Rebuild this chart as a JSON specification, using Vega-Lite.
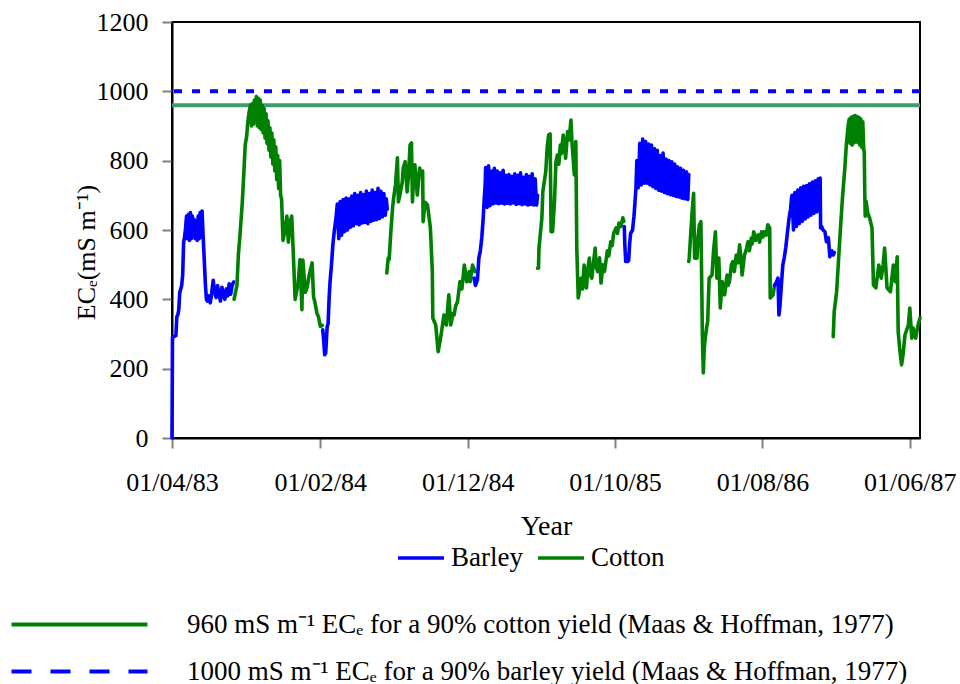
{
  "$schema": "https://vega.github.io/schema/vega-lite/v6.json",
  "width": 748,
  "height": 416,
  "autosize": {"type": "none"},
  "padding": {"left": 172, "top": 22, "right": 40, "bottom": 246},
  "background": "white",
  "config": {
    "font": "Liberation Serif",
    "view": {"stroke": "black", "strokeWidth": 2},
    "axis": {
      "labelFont": "Liberation Serif", "labelFontSize": 26, "labelColor": "black",
      "titleFont": "Liberation Serif", "titleFontSize": 28, "titleFontWeight": "normal", "titleColor": "black",
      "domainColor": "black", "domainWidth": 2, "tickColor": "#808080", "tickWidth": 2, "tickSize": 10, "grid": false
    },
    "legend": {"labelFont": "Liberation Serif", "labelColor": "black", "labelLimit": 0}
  },
  "resolve": {"scale": {"color": "independent", "strokeDash": "independent", "strokeWidth": "independent"}},
  "layer": [
    {
      "data": {"values": [
        {"v": 960, "ref": "cotton90", "w": 4}
      ]},
      "mark": {"type": "rule"},
      "encoding": {
        "y": {"field": "v", "type": "quantitative", "scale": {"domain": [0, 1200], "nice": false}},
        "color": {"field": "ref", "type": "nominal", "scale": {"range": ["#3d9b6c"]}, "legend": null},
        "strokeWidth": {"field": "w", "type": "quantitative", "scale": {"domain": [0, 4], "range": [0, 4]},
          "legend": {
            "values": [4], "labelExpr": "'960 mS m⁻¹ ECₑ for a 90% cotton yield (Maas & Hoffman, 1977)'",
            "orient": "none", "legendX": -106, "legendY": 589, "title": null,
            "symbolType": "M-10,0H10", "symbolSize": 185, "symbolStrokeColor": "#008000",
            "labelFontSize": 27, "labelOffset": 94, "labelLimit": 0
          }
        }
      }
    },
    {
      "data": {"values": [
        {"v": 1000, "ref": "barley90", "w": 4}
      ]},
      "mark": {"type": "rule"},
      "encoding": {
        "y": {"field": "v", "type": "quantitative"},
        "color": {"field": "ref", "type": "nominal", "scale": {"range": ["#0000ff"]}, "legend": null},
        "strokeDash": {"field": "ref", "type": "nominal", "scale": {"range": [[8, 10]]}, "legend": null},
        "strokeWidth": {"field": "w", "type": "quantitative", "scale": {"domain": [0, 4], "range": [0, 4]},
          "legend": {
            "values": [4], "labelExpr": "'1000 mS m⁻¹ ECₑ for a 90% barley yield (Maas & Hoffman, 1977)'",
            "orient": "none", "legendX": -106, "legendY": 636, "title": null,
            "symbolType": "M-10,0H10", "symbolSize": 185, "symbolStrokeColor": "#0000ff", "symbolDash": [20, 19],
            "labelFontSize": 27, "labelOffset": 94, "labelLimit": 0
          }
        }
      }
    },
    {
      "data": {"values": [
        {"d":"1983-04-01","v":0,"c":"Barley","s":"b1"},
        {"d":"1983-04-02","v":290,"c":"Barley","s":"b1"},
        {"d":"1983-04-09","v":295,"c":"Barley","s":"b1"},
        {"d":"1983-04-11","v":350,"c":"Barley","s":"b1"},
        {"d":"1983-04-13","v":355,"c":"Barley","s":"b1"},
        {"d":"1983-04-15","v":370,"c":"Barley","s":"b1"},
        {"d":"1983-04-17","v":420,"c":"Barley","s":"b1"},
        {"d":"1983-04-19","v":430,"c":"Barley","s":"b1"},
        {"d":"1983-04-21","v":440,"c":"Barley","s":"b1"},
        {"d":"1983-04-23","v":470,"c":"Barley","s":"b1"},
        {"d":"1983-04-25","v":565,"c":"Barley","s":"b1"},
        {"d":"1983-04-27","v":580,"c":"Barley","s":"b1"},
        {"d":"1983-04-29","v":605,"c":"Barley","s":"b1"},
        {"d":"1983-05-01","v":640,"c":"Barley","s":"b1"},
        {"d":"1983-05-03","v":575,"c":"Barley","s":"b1"},
        {"d":"1983-05-05","v":645,"c":"Barley","s":"b1"},
        {"d":"1983-05-07","v":570,"c":"Barley","s":"b1"},
        {"d":"1983-05-09","v":650,"c":"Barley","s":"b1"},
        {"d":"1983-05-11","v":575,"c":"Barley","s":"b1"},
        {"d":"1983-05-13","v":640,"c":"Barley","s":"b1"},
        {"d":"1983-05-15","v":580,"c":"Barley","s":"b1"},
        {"d":"1983-05-17","v":630,"c":"Barley","s":"b1"},
        {"d":"1983-05-19","v":575,"c":"Barley","s":"b1"},
        {"d":"1983-05-21","v":625,"c":"Barley","s":"b1"},
        {"d":"1983-05-23","v":570,"c":"Barley","s":"b1"},
        {"d":"1983-05-25","v":640,"c":"Barley","s":"b1"},
        {"d":"1983-05-27","v":575,"c":"Barley","s":"b1"},
        {"d":"1983-05-29","v":650,"c":"Barley","s":"b1"},
        {"d":"1983-05-31","v":580,"c":"Barley","s":"b1"},
        {"d":"1983-06-02","v":655,"c":"Barley","s":"b1"},
        {"d":"1983-06-04","v":590,"c":"Barley","s":"b1"},
        {"d":"1983-06-05","v":560,"c":"Barley","s":"b1"},
        {"d":"1983-06-07","v":500,"c":"Barley","s":"b1"},
        {"d":"1983-06-09","v":440,"c":"Barley","s":"b1"},
        {"d":"1983-06-11","v":400,"c":"Barley","s":"b1"},
        {"d":"1983-06-13","v":395,"c":"Barley","s":"b1"},
        {"d":"1983-06-16","v":410,"c":"Barley","s":"b1"},
        {"d":"1983-06-19","v":390,"c":"Barley","s":"b1"},
        {"d":"1983-06-22","v":420,"c":"Barley","s":"b1"},
        {"d":"1983-06-25","v":455,"c":"Barley","s":"b1"},
        {"d":"1983-06-28","v":420,"c":"Barley","s":"b1"},
        {"d":"1983-07-01","v":405,"c":"Barley","s":"b1"},
        {"d":"1983-07-04","v":440,"c":"Barley","s":"b1"},
        {"d":"1983-07-07","v":410,"c":"Barley","s":"b1"},
        {"d":"1983-07-10","v":395,"c":"Barley","s":"b1"},
        {"d":"1983-07-13","v":435,"c":"Barley","s":"b1"},
        {"d":"1983-07-16","v":415,"c":"Barley","s":"b1"},
        {"d":"1983-07-19","v":400,"c":"Barley","s":"b1"},
        {"d":"1983-07-22","v":430,"c":"Barley","s":"b1"},
        {"d":"1983-07-25","v":410,"c":"Barley","s":"b1"},
        {"d":"1983-07-28","v":445,"c":"Barley","s":"b1"},
        {"d":"1983-07-31","v":415,"c":"Barley","s":"b1"},
        {"d":"1983-08-03","v":440,"c":"Barley","s":"b1"},
        {"d":"1983-08-06","v":450,"c":"Barley","s":"b1"},

        {"d":"1983-08-07","v":400,"c":"Cotton","s":"c1"},
        {"d":"1983-08-10","v":420,"c":"Cotton","s":"c1"},
        {"d":"1983-08-13","v":440,"c":"Cotton","s":"c1"},
        {"d":"1983-08-16","v":530,"c":"Cotton","s":"c1"},
        {"d":"1983-08-19","v":580,"c":"Cotton","s":"c1"},
        {"d":"1983-08-22","v":640,"c":"Cotton","s":"c1"},
        {"d":"1983-08-24","v":680,"c":"Cotton","s":"c1"},
        {"d":"1983-08-27","v":760,"c":"Cotton","s":"c1"},
        {"d":"1983-08-30","v":845,"c":"Cotton","s":"c1"},
        {"d":"1983-09-02","v":870,"c":"Cotton","s":"c1"},
        {"d":"1983-09-04","v":905,"c":"Cotton","s":"c1"},
        {"d":"1983-09-07","v":940,"c":"Cotton","s":"c1"},
        {"d":"1983-09-10","v":960,"c":"Cotton","s":"c1"},
        {"d":"1983-09-12","v":900,"c":"Cotton","s":"c1"},
        {"d":"1983-09-14","v":965,"c":"Cotton","s":"c1"},
        {"d":"1983-09-16","v":905,"c":"Cotton","s":"c1"},
        {"d":"1983-09-18","v":975,"c":"Cotton","s":"c1"},
        {"d":"1983-09-20","v":920,"c":"Cotton","s":"c1"},
        {"d":"1983-09-22","v":985,"c":"Cotton","s":"c1"},
        {"d":"1983-09-24","v":900,"c":"Cotton","s":"c1"},
        {"d":"1983-09-26","v":980,"c":"Cotton","s":"c1"},
        {"d":"1983-09-28","v":895,"c":"Cotton","s":"c1"},
        {"d":"1983-09-30","v":975,"c":"Cotton","s":"c1"},
        {"d":"1983-10-02","v":890,"c":"Cotton","s":"c1"},
        {"d":"1983-10-04","v":960,"c":"Cotton","s":"c1"},
        {"d":"1983-10-06","v":880,"c":"Cotton","s":"c1"},
        {"d":"1983-10-08","v":950,"c":"Cotton","s":"c1"},
        {"d":"1983-10-10","v":865,"c":"Cotton","s":"c1"},
        {"d":"1983-10-12","v":935,"c":"Cotton","s":"c1"},
        {"d":"1983-10-14","v":850,"c":"Cotton","s":"c1"},
        {"d":"1983-10-16","v":915,"c":"Cotton","s":"c1"},
        {"d":"1983-10-18","v":830,"c":"Cotton","s":"c1"},
        {"d":"1983-10-20","v":895,"c":"Cotton","s":"c1"},
        {"d":"1983-10-22","v":810,"c":"Cotton","s":"c1"},
        {"d":"1983-10-24","v":880,"c":"Cotton","s":"c1"},
        {"d":"1983-10-26","v":790,"c":"Cotton","s":"c1"},
        {"d":"1983-10-28","v":860,"c":"Cotton","s":"c1"},
        {"d":"1983-10-30","v":770,"c":"Cotton","s":"c1"},
        {"d":"1983-11-01","v":840,"c":"Cotton","s":"c1"},
        {"d":"1983-11-03","v":745,"c":"Cotton","s":"c1"},
        {"d":"1983-11-05","v":815,"c":"Cotton","s":"c1"},
        {"d":"1983-11-07","v":720,"c":"Cotton","s":"c1"},
        {"d":"1983-11-09","v":800,"c":"Cotton","s":"c1"},
        {"d":"1983-11-11","v":700,"c":"Cotton","s":"c1"},
        {"d":"1983-11-13","v":690,"c":"Cotton","s":"c1"},
        {"d":"1983-11-16","v":570,"c":"Cotton","s":"c1"},
        {"d":"1983-11-20","v":600,"c":"Cotton","s":"c1"},
        {"d":"1983-11-24","v":640,"c":"Cotton","s":"c1"},
        {"d":"1983-11-27","v":565,"c":"Cotton","s":"c1"},
        {"d":"1983-12-01","v":625,"c":"Cotton","s":"c1"},
        {"d":"1983-12-04","v":640,"c":"Cotton","s":"c1"},
        {"d":"1983-12-07","v":540,"c":"Cotton","s":"c1"},
        {"d":"1983-12-11","v":400,"c":"Cotton","s":"c1"},
        {"d":"1983-12-15","v":430,"c":"Cotton","s":"c1"},
        {"d":"1983-12-17","v":440,"c":"Cotton","s":"c1"},
        {"d":"1983-12-21","v":515,"c":"Cotton","s":"c1"},
        {"d":"1983-12-25","v":370,"c":"Cotton","s":"c1"},
        {"d":"1983-12-27","v":513,"c":"Cotton","s":"c1"},
        {"d":"1984-01-01","v":420,"c":"Cotton","s":"c1"},
        {"d":"1984-01-05","v":436,"c":"Cotton","s":"c1"},
        {"d":"1984-01-09","v":470,"c":"Cotton","s":"c1"},
        {"d":"1984-01-15","v":505,"c":"Cotton","s":"c1"},
        {"d":"1984-01-18","v":407,"c":"Cotton","s":"c1"},
        {"d":"1984-01-21","v":390,"c":"Cotton","s":"c1"},
        {"d":"1984-01-25","v":360,"c":"Cotton","s":"c1"},
        {"d":"1984-01-28","v":350,"c":"Cotton","s":"c1"},
        {"d":"1984-02-01","v":322,"c":"Cotton","s":"c1"},
        {"d":"1984-02-05","v":325,"c":"Cotton","s":"c1"},

        {"d":"1984-02-06","v":312,"c":"Barley","s":"b2"},
        {"d":"1984-02-08","v":280,"c":"Barley","s":"b2"},
        {"d":"1984-02-10","v":240,"c":"Barley","s":"b2"},
        {"d":"1984-02-12","v":245,"c":"Barley","s":"b2"},
        {"d":"1984-02-15","v":320,"c":"Barley","s":"b2"},
        {"d":"1984-02-17","v":330,"c":"Barley","s":"b2"},
        {"d":"1984-02-19","v":400,"c":"Barley","s":"b2"},
        {"d":"1984-02-21","v":450,"c":"Barley","s":"b2"},
        {"d":"1984-02-24","v":500,"c":"Barley","s":"b2"},
        {"d":"1984-02-27","v":560,"c":"Barley","s":"b2"},
        {"d":"1984-03-01","v":600,"c":"Barley","s":"b2"},
        {"d":"1984-03-04","v":630,"c":"Barley","s":"b2"},
        {"d":"1984-03-06","v":660,"c":"Barley","s":"b2"},
        {"d":"1984-03-07","v":675,"c":"Barley","s":"b2"},
        {"d":"1984-03-10","v":575,"c":"Barley","s":"b2"},
        {"d":"1984-03-13","v":682,"c":"Barley","s":"b2"},
        {"d":"1984-03-16","v":585,"c":"Barley","s":"b2"},
        {"d":"1984-03-19","v":688,"c":"Barley","s":"b2"},
        {"d":"1984-03-22","v":595,"c":"Barley","s":"b2"},
        {"d":"1984-03-25","v":692,"c":"Barley","s":"b2"},
        {"d":"1984-03-28","v":600,"c":"Barley","s":"b2"},
        {"d":"1984-03-31","v":690,"c":"Barley","s":"b2"},
        {"d":"1984-04-03","v":608,"c":"Barley","s":"b2"},
        {"d":"1984-04-06","v":698,"c":"Barley","s":"b2"},
        {"d":"1984-04-09","v":612,"c":"Barley","s":"b2"},
        {"d":"1984-04-12","v":705,"c":"Barley","s":"b2"},
        {"d":"1984-04-15","v":618,"c":"Barley","s":"b2"},
        {"d":"1984-04-18","v":700,"c":"Barley","s":"b2"},
        {"d":"1984-04-21","v":615,"c":"Barley","s":"b2"},
        {"d":"1984-04-24","v":708,"c":"Barley","s":"b2"},
        {"d":"1984-04-27","v":620,"c":"Barley","s":"b2"},
        {"d":"1984-04-30","v":702,"c":"Barley","s":"b2"},
        {"d":"1984-05-03","v":622,"c":"Barley","s":"b2"},
        {"d":"1984-05-06","v":712,"c":"Barley","s":"b2"},
        {"d":"1984-05-09","v":618,"c":"Barley","s":"b2"},
        {"d":"1984-05-12","v":705,"c":"Barley","s":"b2"},
        {"d":"1984-05-15","v":625,"c":"Barley","s":"b2"},
        {"d":"1984-05-18","v":715,"c":"Barley","s":"b2"},
        {"d":"1984-05-21","v":628,"c":"Barley","s":"b2"},
        {"d":"1984-05-24","v":708,"c":"Barley","s":"b2"},
        {"d":"1984-05-27","v":630,"c":"Barley","s":"b2"},
        {"d":"1984-05-30","v":720,"c":"Barley","s":"b2"},
        {"d":"1984-06-02","v":633,"c":"Barley","s":"b2"},
        {"d":"1984-06-05","v":712,"c":"Barley","s":"b2"},
        {"d":"1984-06-08","v":638,"c":"Barley","s":"b2"},
        {"d":"1984-06-11","v":705,"c":"Barley","s":"b2"},
        {"d":"1984-06-14","v":643,"c":"Barley","s":"b2"},
        {"d":"1984-06-16","v":690,"c":"Barley","s":"b2"},
        {"d":"1984-06-18","v":660,"c":"Barley","s":"b2"},

        {"d":"1984-06-17","v":476,"c":"Cotton","s":"c2"},
        {"d":"1984-06-20","v":519,"c":"Cotton","s":"c2"},
        {"d":"1984-06-22","v":515,"c":"Cotton","s":"c2"},
        {"d":"1984-06-25","v":586,"c":"Cotton","s":"c2"},
        {"d":"1984-06-29","v":664,"c":"Cotton","s":"c2"},
        {"d":"1984-07-01","v":690,"c":"Cotton","s":"c2"},
        {"d":"1984-07-05","v":730,"c":"Cotton","s":"c2"},
        {"d":"1984-07-09","v":808,"c":"Cotton","s":"c2"},
        {"d":"1984-07-11","v":681,"c":"Cotton","s":"c2"},
        {"d":"1984-07-14","v":700,"c":"Cotton","s":"c2"},
        {"d":"1984-07-19","v":738,"c":"Cotton","s":"c2"},
        {"d":"1984-07-21","v":779,"c":"Cotton","s":"c2"},
        {"d":"1984-07-25","v":797,"c":"Cotton","s":"c2"},
        {"d":"1984-07-29","v":710,"c":"Cotton","s":"c2"},
        {"d":"1984-08-01","v":760,"c":"Cotton","s":"c2"},
        {"d":"1984-08-04","v":845,"c":"Cotton","s":"c2"},
        {"d":"1984-08-07","v":851,"c":"Cotton","s":"c2"},
        {"d":"1984-08-09","v":681,"c":"Cotton","s":"c2"},
        {"d":"1984-08-11","v":740,"c":"Cotton","s":"c2"},
        {"d":"1984-08-14","v":788,"c":"Cotton","s":"c2"},
        {"d":"1984-08-19","v":701,"c":"Cotton","s":"c2"},
        {"d":"1984-08-24","v":779,"c":"Cotton","s":"c2"},
        {"d":"1984-08-26","v":760,"c":"Cotton","s":"c2"},
        {"d":"1984-08-30","v":770,"c":"Cotton","s":"c2"},
        {"d":"1984-08-31","v":624,"c":"Cotton","s":"c2"},
        {"d":"1984-09-04","v":680,"c":"Cotton","s":"c2"},
        {"d":"1984-09-09","v":672,"c":"Cotton","s":"c2"},
        {"d":"1984-09-12","v":640,"c":"Cotton","s":"c2"},
        {"d":"1984-09-15","v":606,"c":"Cotton","s":"c2"},
        {"d":"1984-09-19","v":480,"c":"Cotton","s":"c2"},
        {"d":"1984-09-20","v":346,"c":"Cotton","s":"c2"},
        {"d":"1984-09-26","v":326,"c":"Cotton","s":"c2"},
        {"d":"1984-10-01","v":249,"c":"Cotton","s":"c2"},
        {"d":"1984-10-06","v":288,"c":"Cotton","s":"c2"},
        {"d":"1984-10-13","v":355,"c":"Cotton","s":"c2"},
        {"d":"1984-10-18","v":326,"c":"Cotton","s":"c2"},
        {"d":"1984-10-23","v":413,"c":"Cotton","s":"c2"},
        {"d":"1984-10-27","v":326,"c":"Cotton","s":"c2"},
        {"d":"1984-11-01","v":360,"c":"Cotton","s":"c2"},
        {"d":"1984-11-03","v":355,"c":"Cotton","s":"c2"},
        {"d":"1984-11-06","v":380,"c":"Cotton","s":"c2"},
        {"d":"1984-11-10","v":393,"c":"Cotton","s":"c2"},
        {"d":"1984-11-15","v":451,"c":"Cotton","s":"c2"},
        {"d":"1984-11-19","v":430,"c":"Cotton","s":"c2"},
        {"d":"1984-11-24","v":499,"c":"Cotton","s":"c2"},
        {"d":"1984-11-29","v":451,"c":"Cotton","s":"c2"},
        {"d":"1984-12-01","v":470,"c":"Cotton","s":"c2"},
        {"d":"1984-12-04","v":480,"c":"Cotton","s":"c2"},
        {"d":"1984-12-06","v":451,"c":"Cotton","s":"c2"},
        {"d":"1984-12-11","v":499,"c":"Cotton","s":"c2"},
        {"d":"1984-12-16","v":480,"c":"Cotton","s":"c2"},

        {"d":"1984-12-14","v":461,"c":"Barley","s":"b3"},
        {"d":"1984-12-17","v":440,"c":"Barley","s":"b3"},
        {"d":"1984-12-21","v":456,"c":"Barley","s":"b3"},
        {"d":"1984-12-24","v":519,"c":"Barley","s":"b3"},
        {"d":"1984-12-27","v":540,"c":"Barley","s":"b3"},
        {"d":"1984-12-30","v":577,"c":"Barley","s":"b3"},
        {"d":"1985-01-02","v":635,"c":"Barley","s":"b3"},
        {"d":"1985-01-04","v":687,"c":"Barley","s":"b3"},
        {"d":"1985-01-06","v":730,"c":"Barley","s":"b3"},
        {"d":"1985-01-07","v":780,"c":"Barley","s":"b3"},
        {"d":"1985-01-10","v":665,"c":"Barley","s":"b3"},
        {"d":"1985-01-13","v":785,"c":"Barley","s":"b3"},
        {"d":"1985-01-16","v":670,"c":"Barley","s":"b3"},
        {"d":"1985-01-19","v":770,"c":"Barley","s":"b3"},
        {"d":"1985-01-22","v":675,"c":"Barley","s":"b3"},
        {"d":"1985-01-25","v":778,"c":"Barley","s":"b3"},
        {"d":"1985-01-28","v":678,"c":"Barley","s":"b3"},
        {"d":"1985-01-31","v":770,"c":"Barley","s":"b3"},
        {"d":"1985-02-03","v":676,"c":"Barley","s":"b3"},
        {"d":"1985-02-06","v":765,"c":"Barley","s":"b3"},
        {"d":"1985-02-09","v":678,"c":"Barley","s":"b3"},
        {"d":"1985-02-12","v":772,"c":"Barley","s":"b3"},
        {"d":"1985-02-15","v":675,"c":"Barley","s":"b3"},
        {"d":"1985-02-18","v":758,"c":"Barley","s":"b3"},
        {"d":"1985-02-21","v":677,"c":"Barley","s":"b3"},
        {"d":"1985-02-24","v":760,"c":"Barley","s":"b3"},
        {"d":"1985-02-27","v":675,"c":"Barley","s":"b3"},
        {"d":"1985-03-02","v":755,"c":"Barley","s":"b3"},
        {"d":"1985-03-05","v":678,"c":"Barley","s":"b3"},
        {"d":"1985-03-08","v":762,"c":"Barley","s":"b3"},
        {"d":"1985-03-11","v":674,"c":"Barley","s":"b3"},
        {"d":"1985-03-14","v":758,"c":"Barley","s":"b3"},
        {"d":"1985-03-17","v":676,"c":"Barley","s":"b3"},
        {"d":"1985-03-20","v":765,"c":"Barley","s":"b3"},
        {"d":"1985-03-23","v":673,"c":"Barley","s":"b3"},
        {"d":"1985-03-26","v":752,"c":"Barley","s":"b3"},
        {"d":"1985-03-29","v":675,"c":"Barley","s":"b3"},
        {"d":"1985-04-01","v":760,"c":"Barley","s":"b3"},
        {"d":"1985-04-04","v":672,"c":"Barley","s":"b3"},
        {"d":"1985-04-07","v":755,"c":"Barley","s":"b3"},
        {"d":"1985-04-10","v":674,"c":"Barley","s":"b3"},
        {"d":"1985-04-13","v":762,"c":"Barley","s":"b3"},
        {"d":"1985-04-16","v":672,"c":"Barley","s":"b3"},
        {"d":"1985-04-19","v":748,"c":"Barley","s":"b3"},
        {"d":"1985-04-22","v":672,"c":"Barley","s":"b3"},
        {"d":"1985-04-24","v":700,"c":"Barley","s":"b3"},

        {"d":"1985-04-24","v":490,"c":"Cotton","s":"c3"},
        {"d":"1985-04-26","v":490,"c":"Cotton","s":"c3"},
        {"d":"1985-04-27","v":548,"c":"Cotton","s":"c3"},
        {"d":"1985-05-03","v":635,"c":"Cotton","s":"c3"},
        {"d":"1985-05-05","v":711,"c":"Cotton","s":"c3"},
        {"d":"1985-05-08","v":740,"c":"Cotton","s":"c3"},
        {"d":"1985-05-11","v":768,"c":"Cotton","s":"c3"},
        {"d":"1985-05-14","v":840,"c":"Cotton","s":"c3"},
        {"d":"1985-05-17","v":874,"c":"Cotton","s":"c3"},
        {"d":"1985-05-20","v":877,"c":"Cotton","s":"c3"},
        {"d":"1985-05-22","v":595,"c":"Cotton","s":"c3"},
        {"d":"1985-05-25","v":595,"c":"Cotton","s":"c3"},
        {"d":"1985-05-29","v":682,"c":"Cotton","s":"c3"},
        {"d":"1985-06-01","v":797,"c":"Cotton","s":"c3"},
        {"d":"1985-06-04","v":816,"c":"Cotton","s":"c3"},
        {"d":"1985-06-07","v":790,"c":"Cotton","s":"c3"},
        {"d":"1985-06-10","v":845,"c":"Cotton","s":"c3"},
        {"d":"1985-06-12","v":820,"c":"Cotton","s":"c3"},
        {"d":"1985-06-16","v":874,"c":"Cotton","s":"c3"},
        {"d":"1985-06-21","v":807,"c":"Cotton","s":"c3"},
        {"d":"1985-06-25","v":884,"c":"Cotton","s":"c3"},
        {"d":"1985-06-28","v":860,"c":"Cotton","s":"c3"},
        {"d":"1985-07-02","v":917,"c":"Cotton","s":"c3"},
        {"d":"1985-07-04","v":855,"c":"Cotton","s":"c3"},
        {"d":"1985-07-09","v":759,"c":"Cotton","s":"c3"},
        {"d":"1985-07-12","v":855,"c":"Cotton","s":"c3"},
        {"d":"1985-07-14","v":548,"c":"Cotton","s":"c3"},
        {"d":"1985-07-17","v":404,"c":"Cotton","s":"c3"},
        {"d":"1985-07-19","v":420,"c":"Cotton","s":"c3"},
        {"d":"1985-07-23","v":461,"c":"Cotton","s":"c3"},
        {"d":"1985-07-26","v":430,"c":"Cotton","s":"c3"},
        {"d":"1985-07-29","v":499,"c":"Cotton","s":"c3"},
        {"d":"1985-08-01","v":450,"c":"Cotton","s":"c3"},
        {"d":"1985-08-03","v":433,"c":"Cotton","s":"c3"},
        {"d":"1985-08-06","v":490,"c":"Cotton","s":"c3"},
        {"d":"1985-08-09","v":519,"c":"Cotton","s":"c3"},
        {"d":"1985-08-11","v":470,"c":"Cotton","s":"c3"},
        {"d":"1985-08-14","v":461,"c":"Cotton","s":"c3"},
        {"d":"1985-08-17","v":500,"c":"Cotton","s":"c3"},
        {"d":"1985-08-21","v":548,"c":"Cotton","s":"c3"},
        {"d":"1985-08-23","v":495,"c":"Cotton","s":"c3"},
        {"d":"1985-08-26","v":480,"c":"Cotton","s":"c3"},
        {"d":"1985-08-30","v":520,"c":"Cotton","s":"c3"},
        {"d":"1985-09-02","v":447,"c":"Cotton","s":"c3"},
        {"d":"1985-09-06","v":500,"c":"Cotton","s":"c3"},
        {"d":"1985-09-09","v":480,"c":"Cotton","s":"c3"},
        {"d":"1985-09-12","v":509,"c":"Cotton","s":"c3"},
        {"d":"1985-09-15","v":540,"c":"Cotton","s":"c3"},
        {"d":"1985-09-18","v":525,"c":"Cotton","s":"c3"},
        {"d":"1985-09-22","v":566,"c":"Cotton","s":"c3"},
        {"d":"1985-09-25","v":555,"c":"Cotton","s":"c3"},
        {"d":"1985-09-28","v":590,"c":"Cotton","s":"c3"},
        {"d":"1985-10-03","v":606,"c":"Cotton","s":"c3"},
        {"d":"1985-10-06","v":590,"c":"Cotton","s":"c3"},
        {"d":"1985-10-09","v":620,"c":"Cotton","s":"c3"},
        {"d":"1985-10-13","v":610,"c":"Cotton","s":"c3"},
        {"d":"1985-10-17","v":635,"c":"Cotton","s":"c3"},
        {"d":"1985-10-19","v":625,"c":"Cotton","s":"c3"},

        {"d":"1985-10-20","v":610,"c":"Barley","s":"b4"},
        {"d":"1985-10-21","v":560,"c":"Barley","s":"b4"},
        {"d":"1985-10-23","v":509,"c":"Barley","s":"b4"},
        {"d":"1985-10-27","v":509,"c":"Barley","s":"b4"},
        {"d":"1985-10-29","v":512,"c":"Barley","s":"b4"},
        {"d":"1985-10-31","v":560,"c":"Barley","s":"b4"},
        {"d":"1985-11-02","v":590,"c":"Barley","s":"b4"},
        {"d":"1985-11-06","v":600,"c":"Barley","s":"b4"},
        {"d":"1985-11-09","v":640,"c":"Barley","s":"b4"},
        {"d":"1985-11-11","v":680,"c":"Barley","s":"b4"},
        {"d":"1985-11-13","v":720,"c":"Barley","s":"b4"},
        {"d":"1985-11-15","v":800,"c":"Barley","s":"b4"},
        {"d":"1985-11-18","v":722,"c":"Barley","s":"b4"},
        {"d":"1985-11-21","v":850,"c":"Barley","s":"b4"},
        {"d":"1985-11-24","v":730,"c":"Barley","s":"b4"},
        {"d":"1985-11-27","v":862,"c":"Barley","s":"b4"},
        {"d":"1985-11-30","v":735,"c":"Barley","s":"b4"},
        {"d":"1985-12-03","v":855,"c":"Barley","s":"b4"},
        {"d":"1985-12-06","v":735,"c":"Barley","s":"b4"},
        {"d":"1985-12-09","v":848,"c":"Barley","s":"b4"},
        {"d":"1985-12-12","v":730,"c":"Barley","s":"b4"},
        {"d":"1985-12-15","v":845,"c":"Barley","s":"b4"},
        {"d":"1985-12-18","v":725,"c":"Barley","s":"b4"},
        {"d":"1985-12-21","v":835,"c":"Barley","s":"b4"},
        {"d":"1985-12-24","v":720,"c":"Barley","s":"b4"},
        {"d":"1985-12-27","v":830,"c":"Barley","s":"b4"},
        {"d":"1985-12-30","v":715,"c":"Barley","s":"b4"},
        {"d":"1986-01-02","v":815,"c":"Barley","s":"b4"},
        {"d":"1986-01-05","v":712,"c":"Barley","s":"b4"},
        {"d":"1986-01-08","v":822,"c":"Barley","s":"b4"},
        {"d":"1986-01-11","v":708,"c":"Barley","s":"b4"},
        {"d":"1986-01-14","v":805,"c":"Barley","s":"b4"},
        {"d":"1986-01-17","v":705,"c":"Barley","s":"b4"},
        {"d":"1986-01-20","v":800,"c":"Barley","s":"b4"},
        {"d":"1986-01-23","v":702,"c":"Barley","s":"b4"},
        {"d":"1986-01-26","v":797,"c":"Barley","s":"b4"},
        {"d":"1986-01-29","v":700,"c":"Barley","s":"b4"},
        {"d":"1986-02-01","v":790,"c":"Barley","s":"b4"},
        {"d":"1986-02-04","v":697,"c":"Barley","s":"b4"},
        {"d":"1986-02-07","v":782,"c":"Barley","s":"b4"},
        {"d":"1986-02-10","v":695,"c":"Barley","s":"b4"},
        {"d":"1986-02-13","v":778,"c":"Barley","s":"b4"},
        {"d":"1986-02-16","v":692,"c":"Barley","s":"b4"},
        {"d":"1986-02-19","v":772,"c":"Barley","s":"b4"},
        {"d":"1986-02-22","v":690,"c":"Barley","s":"b4"},
        {"d":"1986-02-25","v":768,"c":"Barley","s":"b4"},
        {"d":"1986-02-28","v":688,"c":"Barley","s":"b4"},
        {"d":"1986-03-02","v":760,"c":"Barley","s":"b4"},

        {"d":"1986-03-02","v":509,"c":"Cotton","s":"c4"},
        {"d":"1986-03-03","v":520,"c":"Cotton","s":"c4"},
        {"d":"1986-03-05","v":566,"c":"Cotton","s":"c4"},
        {"d":"1986-03-09","v":653,"c":"Cotton","s":"c4"},
        {"d":"1986-03-12","v":706,"c":"Cotton","s":"c4"},
        {"d":"1986-03-14","v":519,"c":"Cotton","s":"c4"},
        {"d":"1986-03-19","v":519,"c":"Cotton","s":"c4"},
        {"d":"1986-03-21","v":580,"c":"Cotton","s":"c4"},
        {"d":"1986-03-24","v":615,"c":"Cotton","s":"c4"},
        {"d":"1986-03-27","v":624,"c":"Cotton","s":"c4"},
        {"d":"1986-03-29","v":420,"c":"Cotton","s":"c4"},
        {"d":"1986-03-30","v":297,"c":"Cotton","s":"c4"},
        {"d":"1986-04-01","v":188,"c":"Cotton","s":"c4"},
        {"d":"1986-04-03","v":260,"c":"Cotton","s":"c4"},
        {"d":"1986-04-05","v":288,"c":"Cotton","s":"c4"},
        {"d":"1986-04-08","v":320,"c":"Cotton","s":"c4"},
        {"d":"1986-04-10","v":336,"c":"Cotton","s":"c4"},
        {"d":"1986-04-12","v":420,"c":"Cotton","s":"c4"},
        {"d":"1986-04-13","v":461,"c":"Cotton","s":"c4"},
        {"d":"1986-04-19","v":470,"c":"Cotton","s":"c4"},
        {"d":"1986-04-22","v":538,"c":"Cotton","s":"c4"},
        {"d":"1986-04-26","v":595,"c":"Cotton","s":"c4"},
        {"d":"1986-04-29","v":461,"c":"Cotton","s":"c4"},
        {"d":"1986-05-03","v":519,"c":"Cotton","s":"c4"},
        {"d":"1986-05-06","v":375,"c":"Cotton","s":"c4"},
        {"d":"1986-05-10","v":451,"c":"Cotton","s":"c4"},
        {"d":"1986-05-15","v":413,"c":"Cotton","s":"c4"},
        {"d":"1986-05-20","v":470,"c":"Cotton","s":"c4"},
        {"d":"1986-05-22","v":440,"c":"Cotton","s":"c4"},
        {"d":"1986-05-25","v":451,"c":"Cotton","s":"c4"},
        {"d":"1986-05-29","v":500,"c":"Cotton","s":"c4"},
        {"d":"1986-06-01","v":509,"c":"Cotton","s":"c4"},
        {"d":"1986-06-04","v":480,"c":"Cotton","s":"c4"},
        {"d":"1986-06-08","v":528,"c":"Cotton","s":"c4"},
        {"d":"1986-06-11","v":505,"c":"Cotton","s":"c4"},
        {"d":"1986-06-15","v":557,"c":"Cotton","s":"c4"},
        {"d":"1986-06-17","v":530,"c":"Cotton","s":"c4"},
        {"d":"1986-06-20","v":470,"c":"Cotton","s":"c4"},
        {"d":"1986-06-25","v":528,"c":"Cotton","s":"c4"},
        {"d":"1986-06-29","v":545,"c":"Cotton","s":"c4"},
        {"d":"1986-07-02","v":566,"c":"Cotton","s":"c4"},
        {"d":"1986-07-05","v":540,"c":"Cotton","s":"c4"},
        {"d":"1986-07-09","v":577,"c":"Cotton","s":"c4"},
        {"d":"1986-07-11","v":560,"c":"Cotton","s":"c4"},
        {"d":"1986-07-14","v":595,"c":"Cotton","s":"c4"},
        {"d":"1986-07-18","v":570,"c":"Cotton","s":"c4"},
        {"d":"1986-07-23","v":586,"c":"Cotton","s":"c4"},
        {"d":"1986-07-26","v":565,"c":"Cotton","s":"c4"},
        {"d":"1986-07-30","v":595,"c":"Cotton","s":"c4"},
        {"d":"1986-08-02","v":580,"c":"Cotton","s":"c4"},
        {"d":"1986-08-05","v":595,"c":"Cotton","s":"c4"},
        {"d":"1986-08-09","v":585,"c":"Cotton","s":"c4"},
        {"d":"1986-08-12","v":615,"c":"Cotton","s":"c4"},
        {"d":"1986-08-16","v":606,"c":"Cotton","s":"c4"},
        {"d":"1986-08-17","v":404,"c":"Cotton","s":"c4"},
        {"d":"1986-08-23","v":413,"c":"Cotton","s":"c4"},
        {"d":"1986-08-26","v":441,"c":"Cotton","s":"c4"},

        {"d":"1986-08-26","v":441,"c":"Barley","s":"b5"},
        {"d":"1986-08-30","v":450,"c":"Barley","s":"b5"},
        {"d":"1986-09-02","v":461,"c":"Barley","s":"b5"},
        {"d":"1986-09-04","v":355,"c":"Barley","s":"b5"},
        {"d":"1986-09-06","v":380,"c":"Barley","s":"b5"},
        {"d":"1986-09-09","v":441,"c":"Barley","s":"b5"},
        {"d":"1986-09-12","v":499,"c":"Barley","s":"b5"},
        {"d":"1986-09-15","v":520,"c":"Barley","s":"b5"},
        {"d":"1986-09-18","v":548,"c":"Barley","s":"b5"},
        {"d":"1986-09-21","v":586,"c":"Barley","s":"b5"},
        {"d":"1986-09-25","v":635,"c":"Barley","s":"b5"},
        {"d":"1986-09-28","v":660,"c":"Barley","s":"b5"},
        {"d":"1986-09-30","v":692,"c":"Barley","s":"b5"},
        {"d":"1986-10-01","v":700,"c":"Barley","s":"b5"},
        {"d":"1986-10-04","v":600,"c":"Barley","s":"b5"},
        {"d":"1986-10-07","v":708,"c":"Barley","s":"b5"},
        {"d":"1986-10-10","v":610,"c":"Barley","s":"b5"},
        {"d":"1986-10-13","v":715,"c":"Barley","s":"b5"},
        {"d":"1986-10-16","v":618,"c":"Barley","s":"b5"},
        {"d":"1986-10-19","v":722,"c":"Barley","s":"b5"},
        {"d":"1986-10-22","v":625,"c":"Barley","s":"b5"},
        {"d":"1986-10-25","v":726,"c":"Barley","s":"b5"},
        {"d":"1986-10-28","v":632,"c":"Barley","s":"b5"},
        {"d":"1986-10-31","v":728,"c":"Barley","s":"b5"},
        {"d":"1986-11-03","v":638,"c":"Barley","s":"b5"},
        {"d":"1986-11-06","v":733,"c":"Barley","s":"b5"},
        {"d":"1986-11-09","v":643,"c":"Barley","s":"b5"},
        {"d":"1986-11-12","v":738,"c":"Barley","s":"b5"},
        {"d":"1986-11-15","v":648,"c":"Barley","s":"b5"},
        {"d":"1986-11-18","v":742,"c":"Barley","s":"b5"},
        {"d":"1986-11-21","v":652,"c":"Barley","s":"b5"},
        {"d":"1986-11-24","v":748,"c":"Barley","s":"b5"},
        {"d":"1986-11-27","v":658,"c":"Barley","s":"b5"},
        {"d":"1986-11-28","v":750,"c":"Barley","s":"b5"},
        {"d":"1986-11-29","v":606,"c":"Barley","s":"b5"},
        {"d":"1986-12-01","v":610,"c":"Barley","s":"b5"},
        {"d":"1986-12-04","v":600,"c":"Barley","s":"b5"},
        {"d":"1986-12-08","v":595,"c":"Barley","s":"b5"},
        {"d":"1986-12-11","v":566,"c":"Barley","s":"b5"},
        {"d":"1986-12-15","v":577,"c":"Barley","s":"b5"},
        {"d":"1986-12-18","v":523,"c":"Barley","s":"b5"},
        {"d":"1986-12-22","v":540,"c":"Barley","s":"b5"},
        {"d":"1986-12-25","v":528,"c":"Barley","s":"b5"},
        {"d":"1986-12-27","v":535,"c":"Barley","s":"b5"},

        {"d":"1986-12-25","v":292,"c":"Cotton","s":"c5"},
        {"d":"1986-12-27","v":364,"c":"Cotton","s":"c5"},
        {"d":"1987-01-01","v":422,"c":"Cotton","s":"c5"},
        {"d":"1987-01-06","v":538,"c":"Cotton","s":"c5"},
        {"d":"1987-01-09","v":606,"c":"Cotton","s":"c5"},
        {"d":"1987-01-13","v":692,"c":"Cotton","s":"c5"},
        {"d":"1987-01-18","v":779,"c":"Cotton","s":"c5"},
        {"d":"1987-01-21","v":845,"c":"Cotton","s":"c5"},
        {"d":"1987-01-25","v":903,"c":"Cotton","s":"c5"},
        {"d":"1987-01-27","v":920,"c":"Cotton","s":"c5"},
        {"d":"1987-01-29","v":850,"c":"Cotton","s":"c5"},
        {"d":"1987-01-31","v":925,"c":"Cotton","s":"c5"},
        {"d":"1987-02-02","v":845,"c":"Cotton","s":"c5"},
        {"d":"1987-02-04","v":928,"c":"Cotton","s":"c5"},
        {"d":"1987-02-06","v":852,"c":"Cotton","s":"c5"},
        {"d":"1987-02-08","v":930,"c":"Cotton","s":"c5"},
        {"d":"1987-02-10","v":855,"c":"Cotton","s":"c5"},
        {"d":"1987-02-12","v":927,"c":"Cotton","s":"c5"},
        {"d":"1987-02-14","v":852,"c":"Cotton","s":"c5"},
        {"d":"1987-02-16","v":925,"c":"Cotton","s":"c5"},
        {"d":"1987-02-18","v":845,"c":"Cotton","s":"c5"},
        {"d":"1987-02-20","v":920,"c":"Cotton","s":"c5"},
        {"d":"1987-02-22","v":838,"c":"Cotton","s":"c5"},
        {"d":"1987-02-24","v":912,"c":"Cotton","s":"c5"},
        {"d":"1987-02-26","v":830,"c":"Cotton","s":"c5"},
        {"d":"1987-02-27","v":826,"c":"Cotton","s":"c5"},
        {"d":"1987-02-28","v":711,"c":"Cotton","s":"c5"},
        {"d":"1987-03-01","v":640,"c":"Cotton","s":"c5"},
        {"d":"1987-03-03","v":682,"c":"Cotton","s":"c5"},
        {"d":"1987-03-06","v":650,"c":"Cotton","s":"c5"},
        {"d":"1987-03-10","v":635,"c":"Cotton","s":"c5"},
        {"d":"1987-03-15","v":606,"c":"Cotton","s":"c5"},
        {"d":"1987-03-18","v":441,"c":"Cotton","s":"c5"},
        {"d":"1987-03-23","v":433,"c":"Cotton","s":"c5"},
        {"d":"1987-03-29","v":499,"c":"Cotton","s":"c5"},
        {"d":"1987-04-03","v":461,"c":"Cotton","s":"c5"},
        {"d":"1987-04-07","v":500,"c":"Cotton","s":"c5"},
        {"d":"1987-04-10","v":548,"c":"Cotton","s":"c5"},
        {"d":"1987-04-15","v":433,"c":"Cotton","s":"c5"},
        {"d":"1987-04-22","v":422,"c":"Cotton","s":"c5"},
        {"d":"1987-04-28","v":499,"c":"Cotton","s":"c5"},
        {"d":"1987-05-02","v":451,"c":"Cotton","s":"c5"},
        {"d":"1987-05-06","v":523,"c":"Cotton","s":"c5"},
        {"d":"1987-05-08","v":307,"c":"Cotton","s":"c5"},
        {"d":"1987-05-11","v":259,"c":"Cotton","s":"c5"},
        {"d":"1987-05-15","v":211,"c":"Cotton","s":"c5"},
        {"d":"1987-05-18","v":240,"c":"Cotton","s":"c5"},
        {"d":"1987-05-22","v":297,"c":"Cotton","s":"c5"},
        {"d":"1987-05-29","v":326,"c":"Cotton","s":"c5"},
        {"d":"1987-06-01","v":375,"c":"Cotton","s":"c5"},
        {"d":"1987-06-05","v":288,"c":"Cotton","s":"c5"},
        {"d":"1987-06-08","v":317,"c":"Cotton","s":"c5"},
        {"d":"1987-06-13","v":288,"c":"Cotton","s":"c5"},
        {"d":"1987-06-18","v":326,"c":"Cotton","s":"c5"},
        {"d":"1987-06-22","v":346,"c":"Cotton","s":"c5"}
      ]},
      "mark": {"type": "line", "strokeWidth": 3.6, "strokeJoin": "round", "strokeCap": "round"},
      "encoding": {
        "x": {"field": "d", "type": "temporal",
          "scale": {"type": "utc", "domain": [{"year": 1983, "month": 4, "date": 1, "utc": true}, {"year": 1987, "month": 6, "date": 22, "utc": true}], "nice": false},
          "axis": {"title": "Year", "labelExpr": "utcFormat(datum.value, '%d/%m/%y')", "labelFlush": false, "labelOverlap": false,
            "values": [
              {"year": 1983, "month": 4, "date": 1, "utc": true},
              {"year": 1984, "month": 2, "date": 1, "utc": true},
              {"year": 1984, "month": 12, "date": 1, "utc": true},
              {"year": 1985, "month": 10, "date": 1, "utc": true},
              {"year": 1986, "month": 8, "date": 1, "utc": true},
              {"year": 1987, "month": 6, "date": 1, "utc": true}
            ],
            "labelPadding": 21, "titlePadding": 17}},
        "y": {"field": "v", "type": "quantitative",
          "scale": {"domain": [0, 1200], "nice": false},
          "axis": {"title": "ECₑ(mS m⁻¹)", "format": "d", "values": [0, 200, 400, 600, 800, 1000, 1200], "labelPadding": 14, "titlePadding": 2, "titleBaseline": "alphabetic", "titleFontSize": 26, "titleY": 230}},
        "color": {"field": "c", "type": "nominal",
          "scale": {"domain": ["Barley", "Cotton"], "range": ["#0000ff", "#008000"]},
          "legend": {"orient": "none", "direction": "horizontal", "legendX": 224, "legendY": 511, "title": null,
            "symbolType": "stroke", "symbolSize": 2116, "symbolStrokeWidth": 3.5, "labelFontSize": 27, "labelOffset": 5, "columnPadding": 8}},
        "detail": {"field": "s", "type": "nominal"}
      }
    }
  ]
}
